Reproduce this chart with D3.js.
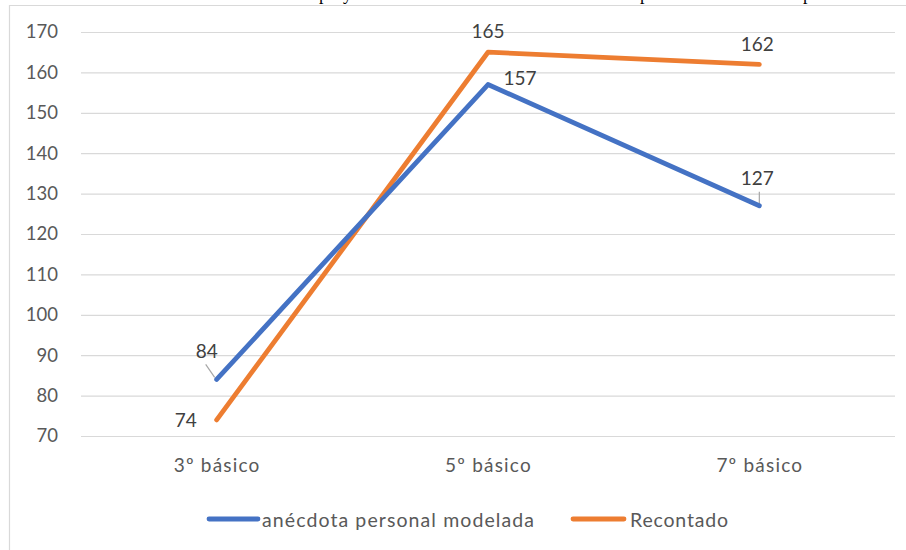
<!DOCTYPE html>
<html>
<head>
<meta charset="utf-8">
<script src="https://cdn.jsdelivr.net/npm/d3@7"></script>
<style>
  body { margin: 0; background: #fff; }
  svg { display: block; }
</style>
</head>
<body>
<svg id="chart" width="906" height="550"></svg>
<script>
// ---- data ----
const categories = ["3º básico", "5º básico", "7º básico"];
const seriesNames = ["anécdota personal modelada", "Recontado"];
const modelada = [84, 157, 127];
const recontado = [74, 165, 162];
const yTicks = [70, 80, 90, 100, 110, 120, 130, 140, 150, 160, 170];

// ---- layout ----
const W = 906, H = 550;
const plot = { left: 81, right: 895, top: 32, bottom: 436 };
const colors = ["#4472C4", "#ED7D31"];
const font = "Lato, 'Noto Sans', sans-serif";

const svg = d3.select("#chart");

// caption line of the surrounding document, mostly above the frame
const caption = svg.append("g")
  .attr("font-family", "'Liberation Serif', 'Times New Roman', serif")
  .attr("font-size", 18).attr("fill", "#000");
caption.append("text").attr("x", 319).attr("y", -0.5).attr("text-anchor", "end")
  .text("Gráfico 4. Número de oraciones del ");
caption.append("text").attr("x", 319).attr("y", -0.5)
  .text("proyecto en la narración oral de las ");
caption.append("text").attr("x", 640).attr("y", -0.5)
  .text("por nivel en las ");
caption.append("text").attr("x", 803).attr("y", -0.5)
  .text("primer ciclo escolar");

// chart frame (top and left edges)
svg.append("path")
  .attr("d", `M9.5,${H} V5.5 H${W}`)
  .attr("fill", "none").attr("stroke", "#d9d9d9").attr("stroke-width", 1.2);

const x = d3.scalePoint().domain(categories).range([plot.left, plot.right]).padding(0.5);
const y = d3.scaleLinear().domain([70, 170]).range([plot.bottom, plot.top]);

// y axis with gridlines
const yAxis = svg.append("g")
  .attr("transform", `translate(${plot.left},0)`)
  .call(d3.axisLeft(y).tickValues(yTicks).tickSize(-(plot.right - plot.left)).tickPadding(23));
yAxis.select(".domain").remove();
yAxis.selectAll(".tick line").attr("stroke", "#d9d9d9").attr("stroke-width", 1.2);
yAxis.selectAll(".tick text")
  .attr("font-family", font).attr("font-size", 18.5).attr("fill", "#595959");

// x axis labels
const xAxis = svg.append("g")
  .attr("transform", `translate(0,${plot.bottom})`)
  .call(d3.axisBottom(x).tickSize(0).tickPadding(0));
xAxis.select(".domain").remove();
xAxis.selectAll(".tick text")
  .attr("y", 36).attr("dy", 0)
  .attr("font-family", font).attr("font-size", 19).attr("letter-spacing", 1.2)
  .attr("fill", "#595959");

// series
const series = [modelada, recontado];
const line = d3.line().x((d, i) => x(categories[i])).y(d => y(d));

// data label offsets relative to each point (label centre)
const labelOffsets = [
  [[-10, -29], [32, -7], [-2, -28]],
  [[-31, 0], [0, -22], [-2, -21]]
];

// leader lines for labels placed away from their points
const leaders = svg.append("g").attr("stroke", "#a6a6a6").attr("stroke-width", 1.2);
leaders.append("line")
  .attr("x1", x(categories[0]) - 11).attr("y1", y(modelada[0]) - 15)
  .attr("x2", x(categories[0]) - 2).attr("y2", y(modelada[0]) - 2);
leaders.append("line")
  .attr("x1", x(categories[2])).attr("y1", y(modelada[2]) - 14)
  .attr("x2", x(categories[2])).attr("y2", y(modelada[2]) - 1);

// draw the orange series first so the blue one sits on top where they cross
[1, 0].forEach(s => {
  svg.append("path")
    .datum(series[s])
    .attr("d", line)
    .attr("fill", "none")
    .attr("stroke", colors[s])
    .attr("stroke-width", 4.8)
    .attr("stroke-linecap", "round")
    .attr("stroke-linejoin", "round");
});

series.forEach((vals, s) => {
  svg.append("g").selectAll("text")
    .data(vals)
    .join("text")
    .attr("x", (d, i) => x(categories[i]) + labelOffsets[s][i][0])
    .attr("y", (d, i) => y(d) + labelOffsets[s][i][1])
    .attr("text-anchor", "middle")
    .attr("dominant-baseline", "central")
    .attr("font-family", font).attr("font-size", 19).attr("fill", "#404040")
    .text(d => d);
});

// legend
const legendY = 519;
const legendItems = [
  { x1: 209, x2: 258, tx: 262, tw: 272 },
  { x1: 573, x2: 624, tx: 630, tw: 98 }
];
legendItems.forEach((it, s) => {
  svg.append("line")
    .attr("x1", it.x1).attr("x2", it.x2).attr("y1", legendY).attr("y2", legendY)
    .attr("stroke", colors[s]).attr("stroke-width", 4.8).attr("stroke-linecap", "round");
  svg.append("text")
    .attr("x", it.tx).attr("y", legendY)
    .attr("dominant-baseline", "central")
    .attr("textLength", it.tw).attr("lengthAdjust", "spacing")
    .attr("font-family", font).attr("font-size", 19.5).attr("fill", "#595959")
    .text(seriesNames[s]);
});
</script>
</body>
</html>
